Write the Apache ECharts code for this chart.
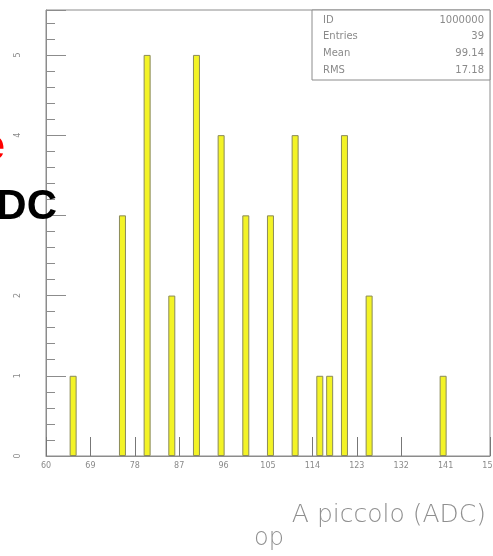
<!DOCTYPE html>
<html>
<head>
<meta charset="utf-8">
<script src="https://cdn.jsdelivr.net/npm/echarts@6/dist/echarts.min.js"></script>
<style>
  html, body { margin: 0; padding: 0; background: #fff; }
  #chart { width: 493px; height: 556px; }
</style>
</head>
<body>
<div id="chart"></div>
<script>
// Histogram of "A piccolo" ADC values, bins of width 1 ADC count
const binLow = [65, 75, 80, 85, 90, 95, 100, 105, 110, 115, 117, 120, 125, 140];
const counts = [1, 3, 5, 2, 5, 4, 3, 3, 4, 1, 1, 4, 2, 1];
const binWidth = 1;

// x axis range and tick step
const xMin = 60, xMax = 150, xStep = 9;
const yMax = 5.56;

// statistics box
const statNames = ['ID', 'Entries', 'Mean', 'RMS'];
const statValues = ['1000000', '39', '99.14', '17.18'];

const axisGray = '#8c8c8c';
const textGray = '#8a8a8a';

const barData = binLow.map((x, i) => [x + binWidth / 2, counts[i]]);

const chart = echarts.init(document.getElementById('chart'), null, { renderer: 'canvas' });

const gridLeft = 46, gridRight = 3, gridTop = 10, gridBottom = 100;

const statGraphics = [];
const boxLeft = 312, boxTop = 10, boxRight = 490, boxBottom = 80;
statGraphics.push({
  type: 'rect',
  shape: { x: boxLeft, y: boxTop, width: boxRight - boxLeft, height: boxBottom - boxTop },
  style: { fill: '#fff', stroke: axisGray, lineWidth: 1 },
  z: 10
});
statNames.forEach((name, i) => {
  const y = 20 + i * 16.7;
  statGraphics.push({
    type: 'text', z: 11, x: 323, y: y,
    style: { text: name, fill: textGray, font: '10px "DejaVu Sans"', textAlign: 'left', textVerticalAlign: 'middle' }
  });
  statGraphics.push({
    type: 'text', z: 11, x: 484, y: y,
    style: { text: statValues[i], fill: textGray, font: '10px "DejaVu Sans"', textAlign: 'right', textVerticalAlign: 'middle' }
  });
});

const option = {
  animation: false,
  backgroundColor: '#ffffff',
  grid: {
    left: gridLeft, right: gridRight, top: gridTop, bottom: gridBottom,
    outerBoundsMode: 'none', containLabel: false,
    show: true, borderColor: axisGray, borderWidth: 1, backgroundColor: 'transparent'
  },
  xAxis: [{
    type: 'value', min: xMin, max: xMax, interval: xStep,
    axisLine: { show: true, lineStyle: { color: axisGray, width: 1 } },
    axisTick: { show: true, inside: true, length: 19, lineStyle: { color: '#777', width: 1 } },
    axisLabel: { color: textGray, fontSize: 8, fontFamily: 'DejaVu Sans', margin: 6 },
    splitLine: { show: false }
  }],
  yAxis: [{
    type: 'value', min: 0, max: yMax, interval: 1,
    axisLine: { show: true, lineStyle: { color: axisGray, width: 1 } },
    axisTick: { show: true, inside: true, length: 20, lineStyle: { color: axisGray, width: 1 } },
    axisLabel: {
      color: textGray, fontSize: 8, fontFamily: 'DejaVu Sans', rotate: 90, margin: 24,
      formatter: v => (Math.abs(v - Math.round(v)) < 1e-6 ? String(Math.round(v)) : '')
    },
    splitLine: { show: false }
  }, {
    // minor ticks every 0.2
    type: 'value', min: 0, max: yMax, interval: 0.2, position: 'left', offset: 0,
    axisLine: { show: false },
    axisTick: { show: true, inside: true, length: 9, lineStyle: { color: axisGray, width: 1 } },
    axisLabel: { show: false },
    splitLine: { show: false }
  }],
  series: [{
    type: 'bar',
    data: barData,
    barWidth: 7,
    itemStyle: { color: '#f3f326', borderColor: '#8a8a5a', borderWidth: 1 },
    z: 3
  }],
  graphic: [
    ...statGraphics,
    {
      type: 'text', x: 486, y: 515,
      style: { text: 'A piccolo (ADC)', fill: '#8f8f8f', font: '300 25px "DejaVu Sans"', textAlign: 'right', textVerticalAlign: 'middle' }
    },
    {
      type: 'text', x: 254, y: 539,
      style: { text: 'op', fill: '#8f8f8f', font: '300 24px "DejaVu Sans"', textAlign: 'left', textVerticalAlign: 'middle' }
    },
    {
      type: 'text', x: 5, y: 148, z: 20,
      style: { text: 'e', fill: '#ff0000', font: 'bold 44px "Liberation Sans"', textAlign: 'right', textVerticalAlign: 'middle' }
    },
    {
      type: 'text', x: 57, y: 207, z: 20,
      style: { text: 'ADC', fill: '#000000', font: 'bold 42px "Liberation Sans"', textAlign: 'right', textVerticalAlign: 'middle' }
    }
  ]
};

chart.setOption(option);
</script>
</body>
</html>
